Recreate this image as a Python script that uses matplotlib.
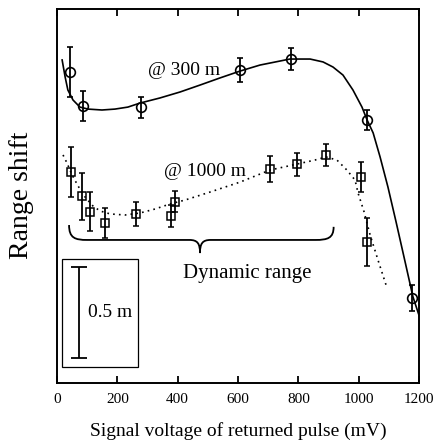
import numpy as np
import matplotlib
matplotlib.use('Agg')
import matplotlib.pyplot as plt
from matplotlib.path import Path
from matplotlib.patches import PathPatch, Rectangle

plt.rcParams['font.family'] = ['Liberation Serif', 'DejaVu Serif']

# measured points @ 300 m (circles)
v300 = [43, 86, 278, 607, 776, 1028, 1177]
s300 = [1.709, 1.522, 1.516, 1.720, 1.780, 1.445, 0.467]
e300 = [0.137, 0.085, 0.058, 0.066, 0.060, 0.055, 0.069]

# fitted curve @ 300 m
fit300_v = [17, 27, 36, 53, 76, 103, 149, 192, 235, 275, 341, 408, 474,
            540, 607, 673, 739, 772, 839, 882, 915, 948, 981, 1011, 1028,
            1048, 1071, 1097, 1124, 1154, 1180, 1203]
fit300_s = [1.775, 1.681, 1.610, 1.555, 1.516, 1.505, 1.500, 1.505, 1.516,
            1.538, 1.566, 1.599, 1.637, 1.676, 1.714, 1.747, 1.769, 1.780,
            1.780, 1.764, 1.736, 1.692, 1.610, 1.516, 1.445, 1.374, 1.242,
            1.077, 0.885, 0.665, 0.473, 0.357]

# measured points @ 1000 m (squares)
v1000 = [46, 83, 109, 159, 262, 378, 391, 706, 796, 892, 1008, 1028]
s1000 = [1.159, 1.027, 0.940, 0.879, 0.929, 0.918, 0.995, 1.176, 1.203,
         1.253, 1.132, 0.775]
e1000 = [0.135, 0.129, 0.107, 0.080, 0.066, 0.060, 0.058, 0.071, 0.063,
         0.058, 0.082, 0.132]

# dotted guide @ 1000 m
fit1000_v = [20, 33, 50, 70, 93, 119, 143, 176, 225, 275, 325, 375, 424,
             507, 607, 706, 796, 855, 892, 928, 961, 988, 998, 1018, 1038,
             1064, 1094]
fit1000_s = [1.253, 1.209, 1.143, 1.082, 1.022, 0.973, 0.945, 0.929, 0.923,
             0.934, 0.956, 0.984, 1.005, 1.049, 1.104, 1.170, 1.203, 1.225,
             1.242, 1.225, 1.170, 1.115, 1.044, 0.940, 0.813, 0.676, 0.522]

xticks = [0, 200, 400, 600, 800, 1000, 1200]

fig = plt.figure(figsize=(4.43, 4.43), dpi=100)
ax = fig.add_axes([57 / 443, 60 / 443, 362 / 443, 374 / 443])

ax.plot(fit300_v, fit300_s, color='black', lw=1.2)
ax.errorbar(v300, s300, yerr=e300, fmt='o', ms=7, mfc='none', mec='black',
            mew=1.2, ecolor='black', elinewidth=1.3, capsize=2.5, capthick=1.3)

ax.plot(fit1000_v, fit1000_s, color='black', lw=1.2, ls=(0, (1, 2.5)))
ax.errorbar(v1000, s1000, yerr=e1000, fmt='s', ms=5.5, mfc='none', mec='black',
            mew=1.1, ecolor='black', elinewidth=1.3, capsize=2.5, capthick=1.3)

ax.text(302, 1.715, '@ 300 m', fontsize=14, va='center')
ax.text(355, 1.16, '@ 1000 m', fontsize=14, va='center')

# curly brace marking the dynamic range
x0, x1, xm = 40, 917, 474
yt, yh, yc = 0.868, 0.786, 0.714
verts = [(x0, yt),
         (x0, yh + 0.01), (x0 + 20, yh), (x0 + 60, yh),
         (xm - 35, yh),
         (xm - 8, yh), (xm, yh - 0.02), (xm, yc),
         (xm, yh - 0.02), (xm + 8, yh), (xm + 35, yh),
         (x1 - 60, yh),
         (x1 - 20, yh), (x1, yh + 0.01), (x1, yt - 0.01)]
codes = [Path.MOVETO,
         Path.CURVE4, Path.CURVE4, Path.CURVE4,
         Path.LINETO,
         Path.CURVE4, Path.CURVE4, Path.CURVE4,
         Path.CURVE4, Path.CURVE4, Path.CURVE4,
         Path.LINETO,
         Path.CURVE4, Path.CURVE4, Path.CURVE4]
ax.add_patch(PathPatch(Path(verts, codes), fill=False, lw=1.3, color='black'))
ax.text(630, 0.60, 'Dynamic range', fontsize=15, ha='center', va='center')

# 0.5 m scale bar
ax.add_patch(Rectangle((17, 0.088), 252, 0.593, fill=False, lw=0.9, color='black'))
ax.errorbar([73], [0.387], yerr=[0.25], fmt='none', ecolor='black',
            elinewidth=1.3, capsize=5.5, capthick=1.3)
ax.text(103, 0.39, '0.5 m', fontsize=14, va='center')

ax.set_xlim(0, 1200)
ax.set_ylim(0, 374 / 182)
ax.set_xticks(xticks)
ax.set_yticks([])
ax.tick_params(axis='x', direction='in', top=True, length=5, width=1.3,
               labelsize=11, pad=7)
for sp in ax.spines.values():
    sp.set_linewidth(1.4)

ax.set_xlabel('Signal voltage of returned pulse (mV)', fontsize=14, labelpad=12)
fig.text(21 / 443, 1 - 195 / 443, 'Range shift', fontsize=20, rotation=90,
         ha='center', va='center')

fig.savefig('out.png', dpi=100)
